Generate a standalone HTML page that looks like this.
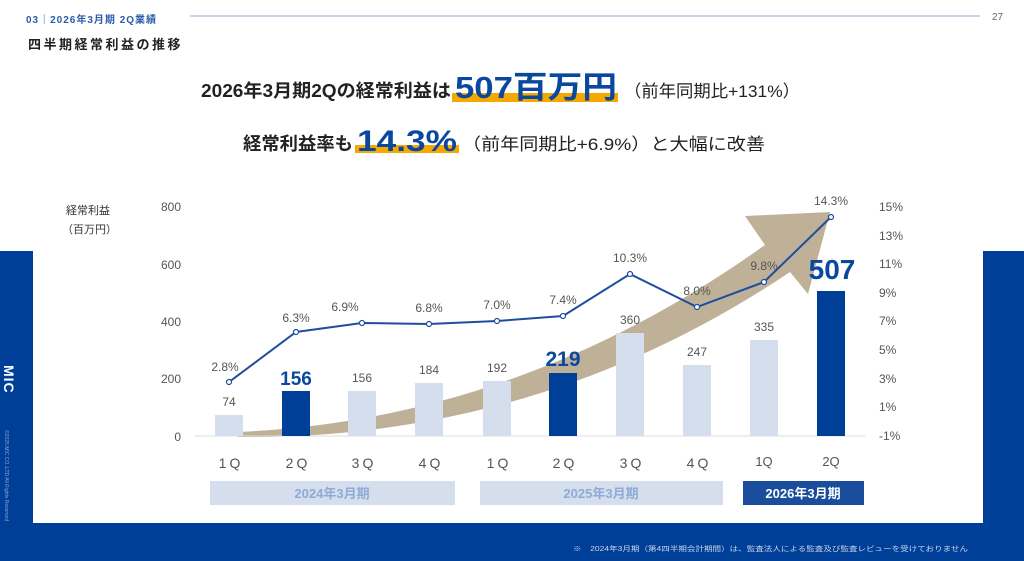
<!DOCTYPE html>
<html><head><meta charset="utf-8"><style>
html,body{margin:0;padding:0;width:1024px;height:561px;overflow:hidden;background:#fff}
svg text{font-family:"Liberation Sans","Noto Sans CJK JP",sans-serif}
</style></head><body>
<svg width="1024" height="561" viewBox="0 0 1024 561" xmlns="http://www.w3.org/2000/svg">
<rect x="0" y="251" width="1024" height="310" fill="#003f98"/>
<line x1="190" y1="16" x2="980" y2="16" stroke="#b5c5e0" stroke-width="1.5"/>
<text x="26" y="23" font-size="10" font-weight="bold" fill="#2a5caa" letter-spacing="1">03｜2026年3月期 2Q業績</text>
<text x="28" y="49" font-size="13" font-weight="bold" fill="#222" letter-spacing="2.5">四半期経常利益の推移</text>
<text x="992" y="20" font-size="10" fill="#666">27</text>
<!-- headline -->
<rect x="452" y="93" width="166" height="9" fill="#f5a800"/>
<text x="201" y="97" font-size="18" font-weight="bold" fill="#222" textLength="250" lengthAdjust="spacingAndGlyphs">2026年3月期2Qの経常利益は</text>
<text x="455" y="98" font-size="31" font-weight="bold" fill="#0a48a0" textLength="162" lengthAdjust="spacingAndGlyphs">507百万円</text>
<text x="624" y="97" font-size="17" fill="#222" textLength="176" lengthAdjust="spacingAndGlyphs">（前年同期比+131%）</text>
<rect x="355" y="145" width="104" height="8" fill="#f5a800"/>
<text x="243" y="150" font-size="18" font-weight="bold" fill="#222" textLength="110" lengthAdjust="spacingAndGlyphs">経常利益率も</text>
<text x="357" y="151" font-size="30" fill="#0a48a0" font-weight="bold" textLength="100" lengthAdjust="spacingAndGlyphs">14.3%</text>
<text x="462" y="150" font-size="17" fill="#222" textLength="303" lengthAdjust="spacingAndGlyphs">（前年同期比+6.9%）と大幅に改善</text>
<!-- card -->
<rect x="33" y="175" width="950" height="348" fill="#fff"/>
<text x="66" y="214" font-size="11" fill="#333">経常利益</text>
<text x="62" y="233" font-size="11" fill="#333">（百万円）</text>
<g font-size="12" fill="#555" text-anchor="end">
<text x="181" y="211">800</text><text x="181" y="269">600</text><text x="181" y="326">400</text><text x="181" y="383">200</text><text x="181" y="441">0</text>
</g>
<g font-size="12" fill="#555">
<text x="879" y="211">15%</text><text x="879" y="240">13%</text><text x="879" y="268">11%</text><text x="879" y="297">9%</text><text x="879" y="325">7%</text><text x="879" y="354">5%</text><text x="879" y="383">3%</text><text x="879" y="411">1%</text><text x="879" y="440">-1%</text>
</g>
<!-- arrow -->
<path d="M238,432 Q520,420 765,245 L745,216 L830,212 L808,294 L790,272 Q540,440 238,437 Z" fill="#bfb197"/>
<line x1="195" y1="436" x2="865" y2="436" stroke="#ddd" stroke-width="1"/>
<!-- bars -->
<g>
<rect x="215" y="415" width="28" height="21" fill="#d4deec"/>
<rect x="282" y="391" width="28" height="45" fill="#003f98"/>
<rect x="348" y="391" width="28" height="45" fill="#d4deec"/>
<rect x="415" y="383" width="28" height="53" fill="#d4deec"/>
<rect x="483" y="381" width="28" height="55" fill="#d4deec"/>
<rect x="549" y="373" width="28" height="63" fill="#003f98"/>
<rect x="616" y="333" width="28" height="103" fill="#d4deec"/>
<rect x="683" y="365" width="28" height="71" fill="#d4deec"/>
<rect x="750" y="340" width="28" height="96" fill="#d4deec"/>
<rect x="817" y="291" width="28" height="145" fill="#003f98"/>
</g>
<g font-size="12" fill="#555" text-anchor="middle">
<text x="229" y="406">74</text><text x="362" y="382">156</text><text x="429" y="374">184</text><text x="497" y="372">192</text><text x="630" y="324">360</text><text x="697" y="356">247</text><text x="764" y="331">335</text>
</g>
<g font-weight="bold" fill="#0a48a0" text-anchor="middle">
<text x="296" y="385" font-size="19">156</text><text x="563" y="366" font-size="21">219</text><text x="832" y="279" font-size="28">507</text>
</g>
<polyline points="229,382 296,332 362,323 429,324 497,321 563,316 630,274 697,307 764,282 831,217" fill="none" stroke="#1f4e9e" stroke-width="2"/>
<g fill="#fff" stroke="#1f4e9e" stroke-width="1.2">
<circle cx="229" cy="382" r="2.5"/><circle cx="296" cy="332" r="2.5"/><circle cx="362" cy="323" r="2.5"/><circle cx="429" cy="324" r="2.5"/><circle cx="497" cy="321" r="2.5"/><circle cx="563" cy="316" r="2.5"/><circle cx="630" cy="274" r="2.5"/><circle cx="697" cy="307" r="2.5"/><circle cx="764" cy="282" r="2.5"/><circle cx="831" cy="217" r="2.5"/>
</g>
<g font-size="12" fill="#555" text-anchor="middle">
<text x="225" y="371">2.8%</text><text x="296" y="322">6.3%</text><text x="345" y="311">6.9%</text><text x="429" y="312">6.8%</text><text x="497" y="309">7.0%</text><text x="563" y="304">7.4%</text><text x="630" y="262">10.3%</text><text x="697" y="295">8.0%</text><text x="764" y="270">9.8%</text><text x="831" y="205">14.3%</text>
</g>
<g font-size="14" fill="#555" text-anchor="middle" letter-spacing="3">
<text x="231" y="468">1Q</text><text x="298" y="468">2Q</text><text x="364" y="468">3Q</text><text x="431" y="468">4Q</text><text x="499" y="468">1Q</text><text x="565" y="468">2Q</text><text x="632" y="468">3Q</text><text x="699" y="468">4Q</text>
</g>
<g font-size="13" fill="#555" text-anchor="middle"><text x="764" y="466">1Q</text><text x="831" y="466">2Q</text></g>
<rect x="210" y="481" width="245" height="24" fill="#d4deec"/>
<rect x="480" y="481" width="243" height="24" fill="#d4deec"/>
<rect x="743" y="481" width="121" height="24" fill="#1a4d9c"/>
<g font-size="13" text-anchor="middle" font-weight="bold">
<text x="332" y="498" fill="#8eaad6">2024年3月期</text><text x="601" y="498" fill="#8eaad6">2025年3月期</text><text x="803" y="498" fill="#fff">2026年3月期</text>
</g>
<text x="4" y="365" font-size="14" font-weight="bold" fill="#fff" transform="rotate(90 4 365)" letter-spacing="1">MIC</text>
<text x="5" y="430" font-size="5" fill="#8aa3cf" transform="rotate(90 5 430)">©2025 MIC CO.,LTD All Rights Reserved</text>
<text x="573" y="551" font-size="7" fill="#c9d4ea" textLength="395" lengthAdjust="spacingAndGlyphs">※　2024年3月期（第4四半期会計期間）は、監査法人による監査及び監査レビューを受けておりません</text>
</svg>
</body></html>
